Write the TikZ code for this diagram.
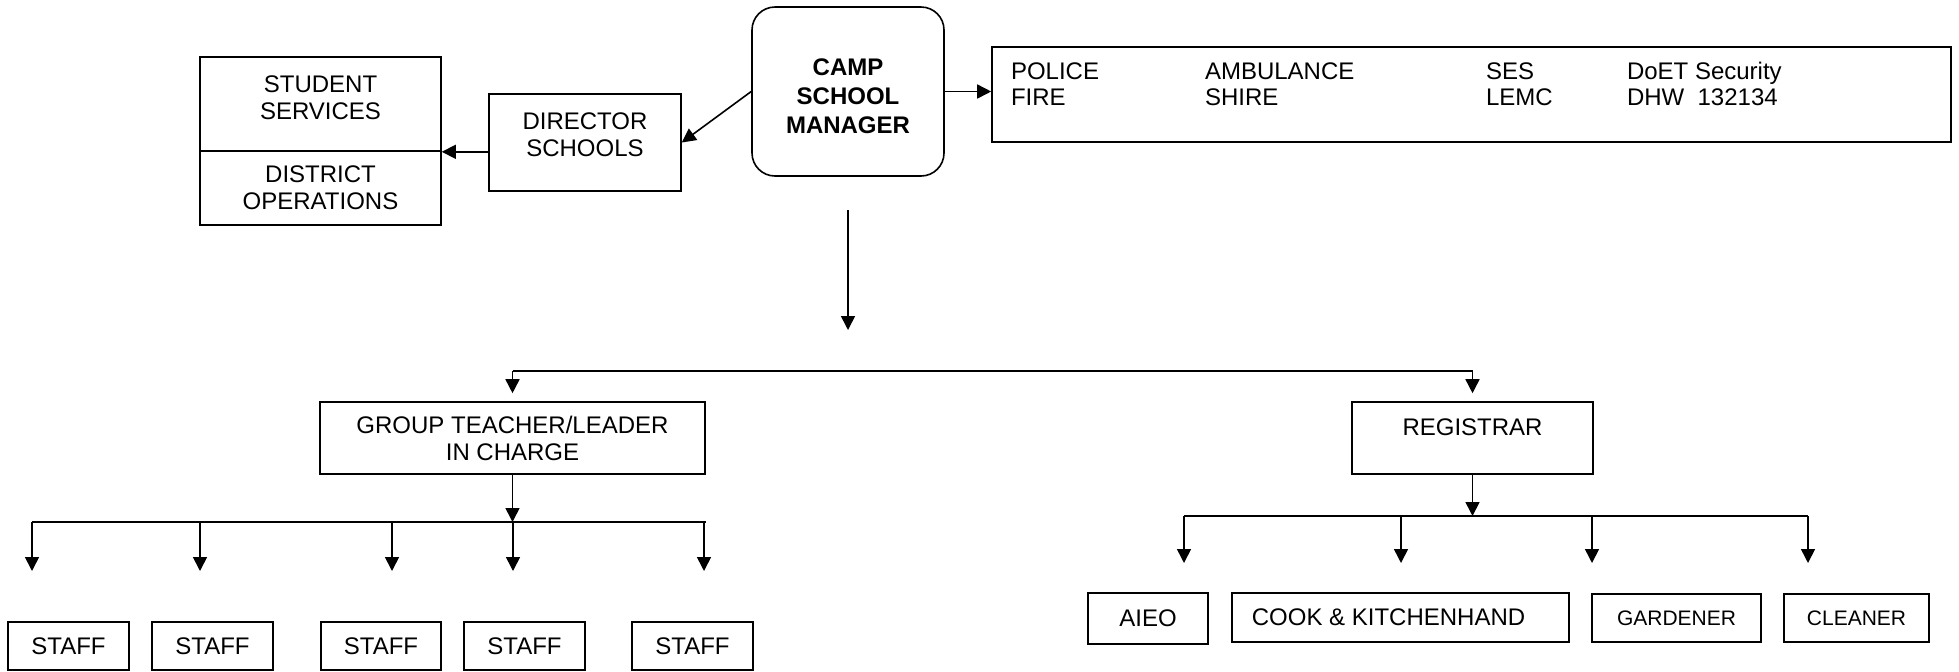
\documentclass[tikz,border=0pt]{standalone}
\usepackage{fontspec}
\setmainfont{Liberation Sans}
\usetikzlibrary{arrows.meta,positioning}
\newcommand\ecol[2]{\makebox[#1][l]{#2}}% fixed width column in the services box

\begin{document}
\begin{tikzpicture}
    [x=0.5pt,y=-0.5pt,
     every node/.style={font=\fontsize{12}{13.5}\selectfont},
     box/.style={draw,line width=0.8pt,inner sep=0pt,align=center},
     arr/.style={-{Triangle[length=7pt,width=7pt]},line width=0.8pt},
     bus/.style={line width=0.8pt}]
    \useasboundingbox (0,0) rectangle (1959,671);

    % top row
    \node[box,minimum width=96pt,minimum height=84.5pt,rounded corners=11.5pt,
          font=\fontsize{12}{14.5}\selectfont\bfseries] (mgr) at (848,91.5) {\mbox{}\\[-1.2pt]CAMP\\SCHOOL\\MANAGER};
    \node[box,minimum width=96pt,minimum height=48.5pt] (dir) at (585,142.5) {DIRECTOR\\SCHOOLS\\[-5.25pt]\mbox{}};
    \node[box,minimum width=120.5pt,minimum height=47pt] (stud) at (320.5,104) {STUDENT\\SERVICES\\[-6.75pt]\mbox{}};
    \node[box,minimum width=120.5pt,minimum height=37pt] (dist) at (320.5,188) {DISTRICT\\OPERATIONS};
    \node[box,minimum width=479.5pt,minimum height=47.5pt,align=left,
          font=\fontsize{12}{13}\selectfont] (emerg) at (1471.5,94.5)
        {\ecol{97pt}{POLICE}\ecol{140.5pt}{AMBULANCE}\ecol{70.5pt}{SES}\ecol{152.5pt}{DoET Security}\\
         \ecol{97pt}{FIRE}\ecol{140.5pt}{SHIRE}\ecol{70.5pt}{LEMC}\ecol{152.5pt}{DHW\ \ 132134}\\[-2pt]
         \mbox{}};

    \draw[arr] (mgr.west) -- (dir.east);
    \draw[arr] (dir.west |- stud.south) -- (stud.south east);
    \draw[arr] (mgr.east) -- (emerg.west |- mgr.east);

    \coordinate (drop) at (848,210);
    \coordinate (dropend) at (848,330);
    \draw[arr] (drop) -- (dropend);

    % second row
    \node[box,minimum width=192.5pt,minimum height=36pt] (grp) at (512.5,438) {GROUP TEACHER/LEADER\\IN CHARGE};
    \node[box,minimum width=120.5pt,minimum height=36pt,text height=8pt,text depth=11pt] (reg) at (1472.5,438) {REGISTRAR};

    \draw[bus] (grp.north |- 0,371) -- (reg.north |- 0,371);
    \draw[arr] (grp.north |- 0,371) -- ([yshift=4pt]grp.north);
    \draw[arr] (reg.north |- 0,371) -- ([yshift=4pt]reg.north);

    % group teacher branch
    \foreach \x/\w [count=\i] in {68.5/60.5pt,212.5/60.5pt,381/60pt,524.5/60.5pt,692.5/60.5pt}
        \node[box,minimum width=\w,minimum height=24pt] (staff\i) at (\x,646) {STAFF};
    \draw[arr] (grp.south) -- (grp.south |- 0,522);
    \draw[bus] (32,522) -- (grp.east |- 0,522);
    \foreach \x in {32,200,392,513,704}
        \draw[arr] (\x,522) -- (\x,571);

    % registrar branch
    \node[box,minimum width=60pt,minimum height=25.5pt] (aieo) at (1148,618.5) {AIEO};
    \node[box,minimum width=168.5pt,minimum height=24.5pt] (cook) at (1400.5,617.5) {COOK \& KITCHENHAND\hspace{12pt}};
    \node[box,minimum width=84.5pt,minimum height=24pt,font=\fontsize{10.5}{12}\selectfont] (gard) at (1676.5,618) {GARDENER};
    \node[box,minimum width=72.5pt,minimum height=24pt,font=\fontsize{10.5}{12}\selectfont] (clean) at (1856.5,618) {CLEANER};
    \draw[arr] (reg.south) -- (reg.south |- 0,516);
    \draw[bus] (1184,516) -- (1808,516);
    \foreach \x in {1184,1401,1592,1808}
        \draw[arr] (\x,516) -- (\x,563);
\end{tikzpicture}
\end{document}
